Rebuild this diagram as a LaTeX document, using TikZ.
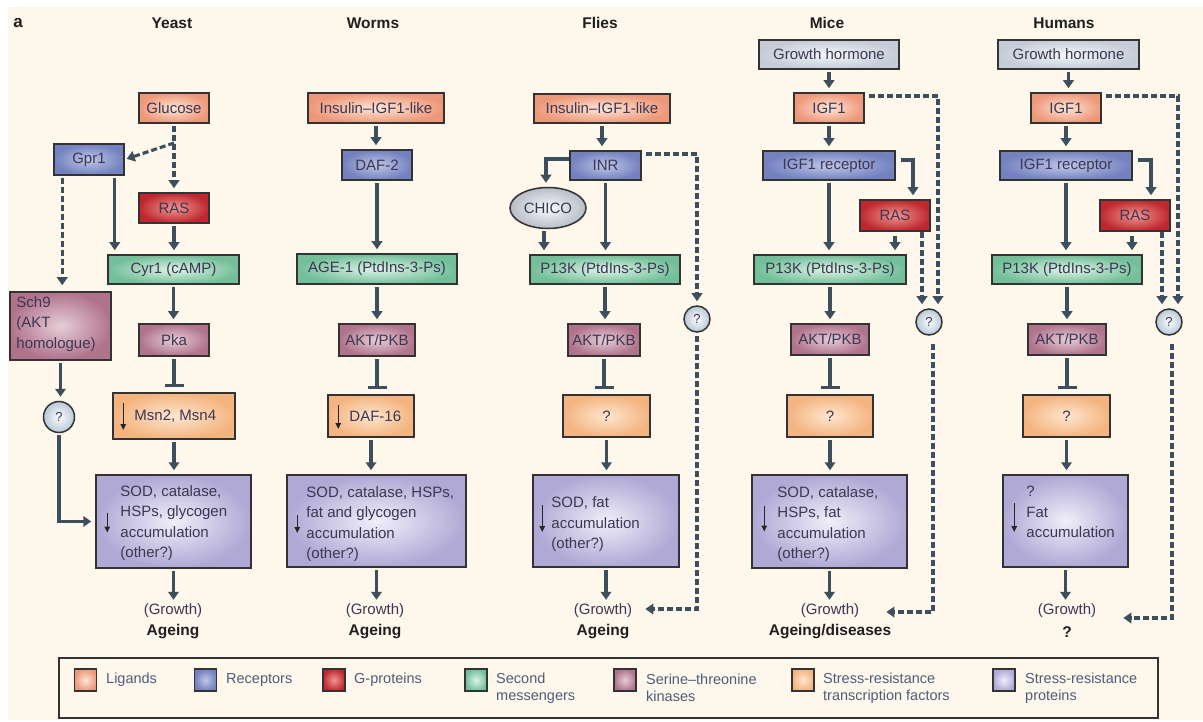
\documentclass[tikz,border=0pt]{standalone}
\usepackage{fontspec}
\setmainfont{Liberation Sans}
\usetikzlibrary{arrows.meta,shapes.geometric,calc}
\definecolor{bg}{RGB}{253,247,236}
\definecolor{ac}{RGB}{61,79,92}
\definecolor{tc}{RGB}{60,55,82}
\definecolor{lc}{RGB}{80,92,120}
\definecolor{lgO}{RGB}{238,152,122}\definecolor{lgI}{RGB}{252,230,216}
\definecolor{rcO}{RGB}{115,129,191}\definecolor{rcI}{RGB}{190,199,232}
\definecolor{gpO}{RGB}{190,40,46}\definecolor{gpI}{RGB}{240,150,146}
\definecolor{smO}{RGB}{115,191,153}\definecolor{smI}{RGB}{222,243,232}
\definecolor{kiO}{RGB}{176,115,140}\definecolor{kiI}{RGB}{230,205,214}
\definecolor{tfO}{RGB}{244,180,127}\definecolor{tfI}{RGB}{253,230,208}
\definecolor{spO}{RGB}{176,168,213}\definecolor{spI}{RGB}{240,238,249}
\definecolor{ghO}{RGB}{196,204,216}\definecolor{ghI}{RGB}{244,247,250}
\definecolor{chO}{RGB}{184,189,200}\definecolor{chI}{RGB}{248,249,251}
\definecolor{qO}{RGB}{184,200,216}\definecolor{qI}{RGB}{252,253,254}
\newcommand\nodefnt{\fontsize{15}{20.5}\selectfont}
\newcommand\legfnt{\fontsize{14.5}{17}\selectfont}
\newcommand\ttlfnt{\fontsize{15.5}{18}\selectfont\bfseries}
\newcommand\mybox[7]{\node[#2, minimum width={(#5)-(#3)}, minimum height={(#6)-(#4)}] (#1) at ({((#3)+(#5))/2},{((#4)+(#6))/2}) {#7};}
\newcommand\vdown[3][arr]{\draw[#1] (#2.south) -- (#2.south |- #3.north);}
\begin{document}
\begin{tikzpicture}[x=1pt,y=-1pt,
  base/.style={draw=black!80, line width=1.5pt, inner sep=0pt, font=\nodefnt, text=tc},
  lig/.style={base, inner color=lgI, outer color=lgO},
  rec/.style={base, inner color=rcI, outer color=rcO},
  gprot/.style={base, inner color=gpI, outer color=gpO},
  sec/.style={base, inner color=smI, outer color=smO},
  kin/.style={base, inner color=kiI, outer color=kiO},
  tf/.style={base, inner color=tfI, outer color=tfO},
  sp/.style={base, inner color=spI, outer color=spO},
  gh/.style={base, inner color=ghI, outer color=ghO},
  qc/.style={base, circle, minimum size=26pt, inner color=qI, outer color=qO, font=\fontsize{13}{15}\selectfont},
  chico/.style={base, ellipse, minimum width=76pt, minimum height=41pt, inner color=chI, outer color=chO},
  txt/.style={font=\nodefnt, text=tc, inner sep=0pt},
  ltxt/.style={font=\legfnt, text=lc, inner sep=0pt, align=left, anchor=west},
  ttl/.style={font=\ttlfnt, text=black!88, inner sep=0pt},
  arr/.style={draw=ac, line width=3.4pt, -{Triangle[width=10.5pt,length=8pt]}, shorten <=2pt, shorten >=4pt},
  darr/.style={arr, line width=3.1pt, dash pattern=on 6pt off 3pt},
  inh/.style={draw=ac, line width=3.4pt, -{Bar[width=19pt]}, shorten <=2pt},
  sarr/.style={draw=black!85, line width=1.4pt, -{Triangle[width=5.5pt,length=6pt]}},
  legbox/.style={draw=black!80, line width=1.5pt}
]
\useasboundingbox (0,0) rectangle (1203,722);
\fill[white] (0,0) rectangle (1203,722);
\fill[bg] (8,7) rectangle (1203,720);

% titles
\node[ttl, font=\fontsize{17}{18}\selectfont\bfseries] (ta) at (18,23) {a};
\node[ttl] (t1) at (172,23) {Yeast};
\node[ttl] (t2) at (373,23) {Worms};
\node[ttl] (t3) at (600,23) {Flies};
\node[ttl] (t4) at (827,23) {Mice};
\node[ttl] (t5) at (1064,23) {Humans};

% ---------------- Yeast
\mybox{glu}{lig}{139}{93}{209}{123}{Glucose}
\mybox{gpr}{rec}{54}{144}{124}{175}{Gpr1}
\mybox{ras1}{gprot}{139}{193}{209}{223}{RAS}
\mybox{cyr}{sec}{108}{255}{239}{284}{Cyr1 (cAMP)}
\mybox{sch}{kin}{10}{292}{111}{360}{}
\node[txt, anchor=west, align=left] (scht) at ([xshift=7pt,yshift=2pt]sch.west) {Sch9\\(AKT\\homologue)};
\mybox{pka}{kin}{139}{324}{209}{356}{Pka}
\mybox{msn}{tf}{113}{393}{235}{439}{}
\node[txt, anchor=west] (msnt) at ([xshift=22pt]msn.west) {Msn2, Msn4};
\draw[sarr] ([xshift=11pt,yshift=13pt]msn.west) -- ([xshift=11pt,yshift=-14pt]msn.west);
\node[qc, minimum size=31pt] (q1) at (59,417) {?};
\mybox{sod1}{sp}{96}{475}{251}{568}{}
\node[txt, anchor=west, align=left] (sod1t) at ([xshift=25pt,yshift=-1.5pt]sod1.west) {SOD, catalase,\\HSPs, glycogen\\accumulation\\(other?)};
\draw[sarr] ([xshift=12pt,yshift=9pt]sod1.west) -- ([xshift=12pt,yshift=-11pt]sod1.west);
\node[txt] (gr1) at (173,611) {(Growth)};
\node[ttl] (ag1) at (173,632) {Ageing};

\draw[darr] (glu.south) -- (glu.south |- ras1.north);
\coordinate (gb) at (glu.south |- 0,143);
\draw[darr, shorten <=0pt, shorten >=2pt] (gb) -- (gpr.east);
\draw[darr, shorten >=6pt] ([xshift=9pt]gpr.south west) -- ([xshift=9pt]gpr.south west |- sch.north);
\draw[arr] ([xshift=-10pt]gpr.south east) -- ([xshift=-10pt]gpr.south east |- cyr.north);
\vdown{ras1}{cyr}
\vdown{cyr}{pka}
\draw[inh] (pka.south) -- ([yshift=5pt]msn.north);
\vdown{msn}{sod1}
\vdown{sch}{q1}
\draw[arr] (q1.south) |- (sod1.west);
\vdown{sod1}{gr1}

% ---------------- Worms
\mybox{ins2}{lig}{308}{93}{444}{123}{Insulin–IGF1-like}
\mybox{daf2}{rec}{342}{150}{412}{180}{DAF-2}
\mybox{age}{sec}{297}{254}{457}{284}{AGE-1 (PtdIns-3-Ps)}
\mybox{akt2}{kin}{339}{324}{415}{356}{AKT/PKB}
\mybox{daf16}{tf}{328}{395}{414}{437}{}
\node[txt, anchor=west] (daf16t) at ([xshift=22pt]daf16.west) {DAF-16};
\draw[sarr] ([xshift=11pt,yshift=11pt]daf16.west) -- ([xshift=11pt,yshift=-13pt]daf16.west);
\mybox{sod2}{sp}{287}{475}{466}{567}{}
\node[txt, anchor=west, align=left] (sod2t) at ([xshift=20pt,yshift=-3pt]sod2.west) {SOD, catalase, HSPs,\\fat and glycogen\\accumulation\\(other?)};
\draw[sarr] ([xshift=11pt,yshift=6pt]sod2.west) -- ([xshift=11pt,yshift=-12pt]sod2.west);
\node[txt] (gr2) at (375,611) {(Growth)};
\node[ttl] (ag2) at (375,632) {Ageing};

\vdown{ins2}{daf2}
\vdown{daf2}{age}
\vdown{age}{akt2}
\draw[inh] (akt2.south) -- ([yshift=5pt]akt2.south |- daf16.north);
\vdown{daf16}{sod2}
\vdown{sod2}{gr2}

% ---------------- Flies
\mybox{ins3}{lig}{534}{94}{670}{123}{Insulin–IGF1-like}
\mybox{inr}{rec}{570}{151}{641}{180}{INR}
\node[chico] (chico) at (548,208) {CHICO};
\mybox{pi3}{sec}{530}{255}{680}{284}{P13K (PtdIns-3-Ps)}
\mybox{akt3}{kin}{568}{324}{640}{356}{AKT/PKB}
\mybox{qb3}{tf}{563}{395}{650}{437}{?}
\node[qc] (q3) at (697,319) {?};
\mybox{sod3}{sp}{533}{475}{679}{567}{}
\node[txt, anchor=west, align=left] (sod3t) at ([xshift=19pt,yshift=-3.5pt]sod3.west) {SOD, fat\\accumulation\\(other?)};
\draw[sarr] ([xshift=10pt,yshift=16pt]sod3.west) -- ([xshift=10pt,yshift=-11pt]sod3.west);
\node[txt] (gr3) at (603,611) {(Growth)};
\node[ttl] (ag3) at (603,632) {Ageing};

\vdown{ins3}{inr}
\draw[arr, shorten <=0pt] ([yshift=6.5pt]inr.west) -| ([xshift=-2pt]chico.north);
\draw[arr] ([xshift=-4pt]chico.south) -- ([xshift=-4pt]chico.south |- pi3.north);
\draw[arr] (inr.south) -- (inr.south |- pi3.north);
\vdown{pi3}{akt3}
\draw[inh] (akt3.south) -- ([yshift=5pt]akt3.south |- qb3.north);
\vdown{qb3}{sod3}
\vdown{sod3}{gr3}
\draw[darr, shorten <=4pt] ([yshift=11.5pt]inr.east) -| (q3.north);
\draw[darr, shorten <=3pt, shorten >=13pt] (q3.south) |- ([yshift=2pt]gr3.east);

% ---------------- Mice
\mybox{gh4}{gh}{759}{40}{899}{69}{Growth hormone}
\mybox{igf4}{lig}{794}{93}{864}{123}{IGF1}
\mybox{igfr4}{rec}{763}{151}{895}{180}{IGF1 receptor}
\mybox{ras4}{gprot}{860}{200}{930}{231}{RAS}
\mybox{pi4}{sec}{754}{255}{906}{284}{P13K (PtdIns-3-Ps)}
\mybox{akt4}{kin}{791}{324}{869}{355}{AKT/PKB}
\mybox{qb4}{tf}{787}{395}{873}{437}{?}
\node[qc] (q4) at (929,322) {?};
\mybox{sod4}{sp}{752}{475}{907}{568}{}
\node[txt, anchor=west, align=left] (sod4t) at ([xshift=26pt,yshift=-2.5pt]sod4.west) {SOD, catalase,\\HSPs, fat\\accumulation\\(other?)};
\draw[sarr] ([xshift=13pt,yshift=16pt]sod4.west) -- ([xshift=13pt,yshift=-10pt]sod4.west);
\node[txt] (gr4) at (830,611) {(Growth)};
\node[ttl] (ag4) at (830,632) {Ageing/diseases};

\vdown{gh4}{igf4}
\vdown{igf4}{igfr4}
\draw[arr] (igfr4.south) -- (igfr4.south |- pi4.north);
\draw[arr, shorten <=5pt] ([yshift=5.5pt]igfr4.east) -| ([xshift=18pt]ras4.north);
\draw[arr, shorten <=4pt] (ras4.south) -- (ras4.south |- pi4.north);
\draw[darr, shorten <=4pt] ([yshift=12pt]igf4.east) -| ([xshift=9pt]q4.north);
\draw[darr, shorten <=0pt] ([xshift=27pt]ras4.south) -- ([xshift=27pt]ras4.south |- q4.north);
\draw[darr, shorten <=8pt, shorten >=27pt] ([xshift=4pt]q4.south) |- ([yshift=-1pt]gr4.east);
\vdown{pi4}{akt4}
\draw[inh] (akt4.south) -- ([yshift=5pt]akt4.south |- qb4.north);
\vdown{qb4}{sod4}
\vdown{sod4}{gr4}

% ---------------- Humans
\mybox{gh5}{gh}{998}{40}{1139}{69}{Growth hormone}
\mybox{igf5}{lig}{1031}{93}{1101}{123}{IGF1}
\mybox{igfr5}{rec}{1000}{151}{1132}{180}{IGF1 receptor}
\mybox{ras5}{gprot}{1100}{200}{1170}{231}{RAS}
\mybox{pi5}{sec}{992}{255}{1142}{284}{P13K (PtdIns-3-Ps)}
\mybox{akt5}{kin}{1028}{324}{1106}{355}{AKT/PKB}
\mybox{qb5}{tf}{1023}{395}{1110}{437}{?}
\node[qc] (q5) at (1169,322) {?};
\mybox{sod5}{sp}{1003}{475}{1128}{567}{}
\node[txt, anchor=west, align=left] (sod5t) at ([xshift=24pt,yshift=9pt]sod5.west) {?\\Fat\\accumulation};
\draw[sarr] ([xshift=12pt,yshift=18pt]sod5.west) -- ([xshift=12pt,yshift=-11pt]sod5.west);
\node[txt] (gr5) at (1067,611) {(Growth)};
\node[ttl] (ag5) at (1067,632) {?};

\vdown{gh5}{igf5}
\vdown{igf5}{igfr5}
\draw[arr] (igfr5.south) -- (igfr5.south |- pi5.north);
\draw[arr, shorten <=5pt] ([yshift=5.5pt]igfr5.east) -| ([xshift=16pt]ras5.north);
\draw[arr, shorten <=4pt] ([xshift=-3pt]ras5.south) -- ([xshift=-3pt]ras5.south |- pi5.north);
\draw[darr, shorten <=4pt] ([yshift=12pt]igf5.east) -| ([xshift=9pt]q5.north);
\draw[darr, shorten <=0pt] ([xshift=27pt]ras5.south) -- ([xshift=27pt]ras5.south |- q5.north);
\draw[darr, shorten <=8pt, shorten >=27pt] ([xshift=3pt]q5.south) |- ([yshift=-7pt]gr5.east);
\vdown{pi5}{akt5}
\draw[inh] (akt5.south) -- ([yshift=5pt]akt5.south |- qb5.north);
\vdown{qb5}{sod5}
\vdown{sod5}{gr5}

% ---------------- Legend
\mybox{leg}{legbox}{59}{658}{1158}{718}{}
\node[lig, minimum size=22pt] (k1) at (85.5,680) {};
\node[ltxt] (l1) at (106,680) {Ligands};
\node[rec, minimum size=22pt] (k2) at (205.5,680) {};
\node[ltxt] (l2) at (226,680) {Receptors};
\node[gprot, minimum size=22pt] (k3) at (334,680) {};
\node[ltxt] (l3) at (354,680) {G-proteins};
\node[sec, minimum size=22pt] (k4) at (476,680) {};
\node[ltxt] (l4) at (496,688) {Second\\messengers};
\node[kin, minimum size=22pt] (k5) at (625,680) {};
\node[ltxt] (l5) at (646,688) {Serine–threonine\\kinases};
\node[tf, minimum size=22pt] (k6) at (803,680) {};
\node[ltxt] (l6) at (823,688) {Stress-resistance\\transcription factors};
\node[sp, minimum size=22pt] (k7) at (1004,680) {};
\node[ltxt] (l7) at (1025,688) {Stress-resistance\\proteins};
\end{tikzpicture}
\end{document}
